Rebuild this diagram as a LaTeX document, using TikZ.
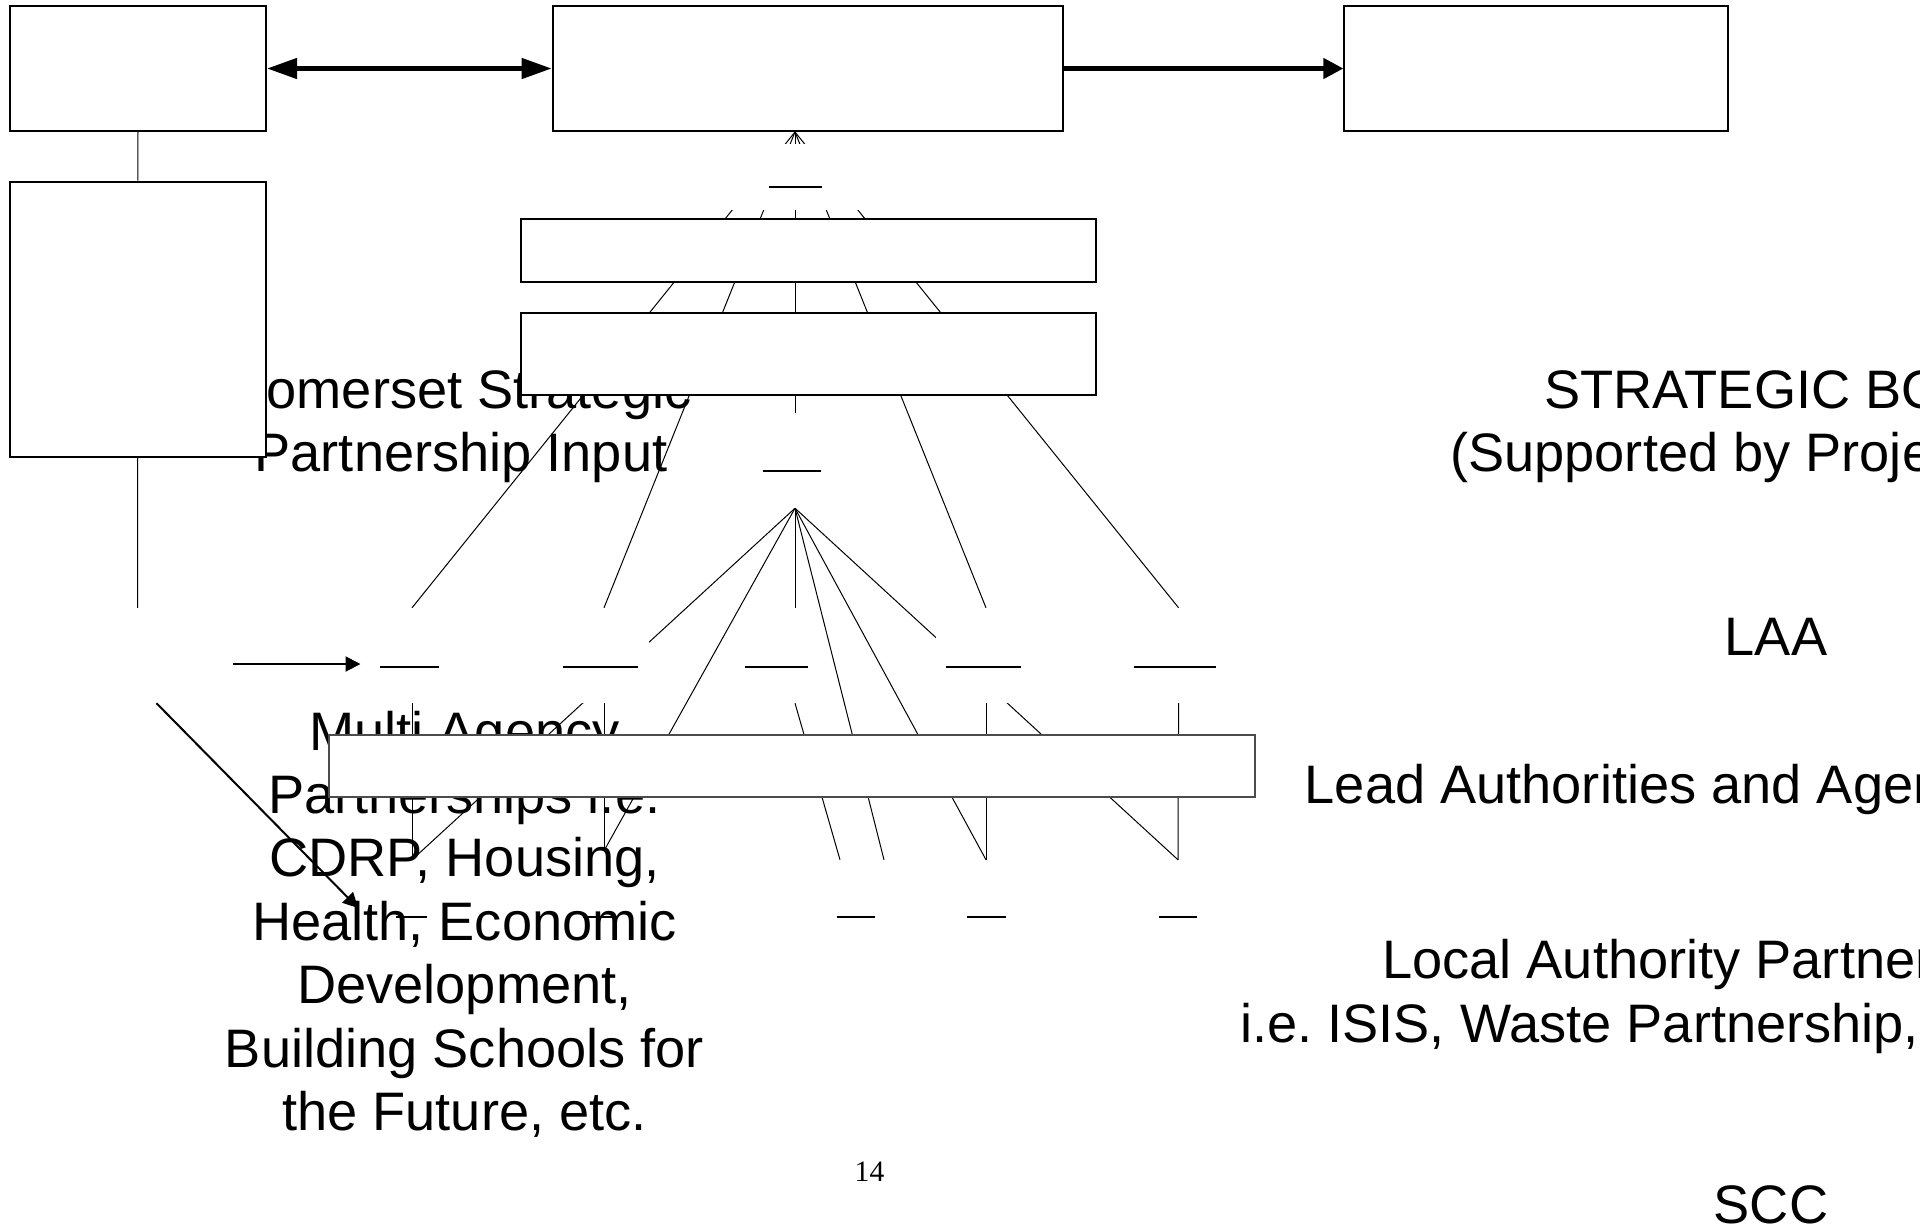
\documentclass[tikz,border=0pt]{standalone}
\usepackage{fontspec}
\setmainfont{Liberation Sans}
\newfontfamily\pagefont{Liberation Serif}
\usetikzlibrary{arrows.meta}
\pgfdeclarelayer{background}
\pgfsetlayers{background,main}

\newcommand{\stacklines}[1]{\begin{tabular}[t]{@{}c@{}}#1\end{tabular}}

\tikzset{
  box/.style={draw, line width=2pt, fill=white, inner sep=0pt},
  blank/.style={fill=white, inner sep=0pt},
  ghost/.style={inner sep=0pt},
  link/.style={line width=1pt},
  bigtext/.style={font=\fontsize{54.2}{63.4}\selectfont, inner sep=0pt},
  dashmark/.style={line width=2pt},
  bigarrow/.style={line width=4.5pt, line cap=round},
  smallarrow/.style={line width=2pt, -{Triangle[length=15pt,width=15pt]}}
}

\begin{document}
\begin{tikzpicture}[x=1pt,y=-1pt]
  \useasboundingbox (0,0) rectangle (1920,1227);

  % Top row
  \node[box, minimum width=256pt, minimum height=125pt] (A) at (138,68.5) {};
  \node[box, minimum width=510.5pt, minimum height=125pt] (B) at (807.9,68.5) {};
  \node[box, minimum width=384pt, minimum height=125pt] (C) at (1536.4,68.5) {};

  % Left column
  \node[box, minimum width=255.5pt, minimum height=275pt] (D) at (137.75,319.2) {};

  % Middle bars
  \node[box, minimum width=574.5pt, minimum height=63pt] (F) at (808.25,250.5) {};
  \node[box, minimum width=574.5pt, minimum height=82pt] (G) at (808.25,353.7) {};
  \node[box, draw=black!70, line width=1.5pt, minimum width=926pt, minimum height=62pt] (E) at (792,766) {};

  % Empty text boxes
  \node[blank, minimum width=150pt, minimum height=66pt] (N0) at (795,177) {};
  \node[blank, minimum width=120pt, minimum height=95pt] (M) at (795,460.5) {};
  \node[blank, minimum width=191pt, minimum height=95pt] (L0) at (137.5,655.5) {};
  \node[blank, minimum width=102.6pt, minimum height=95pt] (L1) at (412,655.5) {};
  \node[blank, minimum width=90pt, minimum height=95pt] (L2) at (604,655.5) {};
  \node[blank, minimum width=75pt, minimum height=95pt] (L3) at (777.5,655.5) {};
  \node[blank, minimum width=100pt, minimum height=95pt] (L4) at (986,655.5) {};
  \node[blank, minimum width=101pt, minimum height=95pt] (L5) at (1178.6,655.5) {};
  \node[ghost, minimum width=107.4pt, minimum height=96pt] (T1) at (412,908) {};
  \node[ghost, minimum width=60pt, minimum height=96pt] (T2) at (604,899) {};
  \node[ghost, minimum width=80pt, minimum height=96pt] (T3) at (862,908) {};
  \node[ghost, minimum width=60pt, minimum height=96pt] (T4) at (986,908) {};
  \node[ghost, minimum width=60pt, minimum height=96pt] (T5) at (1178,908) {};

  % Dashes left in the empty boxes
  \foreach \a/\b/\y in {769/822/187.3, 763/820.5/470.7,
      380/438.5/666.5, 563/638/666.5, 745/808/666.5, 946/1021/666.5, 1133.5/1216/666.5,
      396/427/917, 583/613/917, 837/875/917, 967/1006/917, 1159/1197/917}
    \draw[dashmark] (\a,\y) -- (\b,\y);

  % Arrows
  \draw[bigarrow, {Triangle[length=30pt,width=20pt]}-{Triangle[length=30pt,width=20pt]}] (A.east) -- (B.west);
  \draw[bigarrow, -{Triangle[length=20pt,width=20pt]}] (B.east) -- (C.west);
  \draw[smallarrow] ([yshift=-8.5pt]L0.east) -- ([yshift=-8.5pt]L1.west);
  \draw[smallarrow] ([xshift=19pt]L0.south) -- (T1.west);

  \begin{pgfonlayer}{background}
    % Texts
    \node[bigtext, anchor=base] (somerset) at (461,408) {\stacklines{Somerset Strategic\\Partnership Input}};
    \node[bigtext, anchor=base] (multi) at (464.5,750) {\stacklines{Multi Agency\\Partnerships i.e.\\CDRP, Housing,\\Health, Economic\\Development,\\Building Schools for\\the Future, etc.}};
    \node[bigtext, anchor=base west] (board) at (1544,408) {STRATEGIC BO};
    \node[bigtext, anchor=base west] (support) at (1450,471.5) {(Supported by Proje};
    \node[bigtext, anchor=base] (laa) at (1776,655) {LAA};
    \node[bigtext, anchor=base west] (lead) at (1304.6,803) {Lead Authorities and Agen};
    \node[bigtext, anchor=base west] (local) at (1382,978) {Local Authority Partner};
    \node[bigtext, anchor=base west] (isis) at (1240,1042) {i.e.\ ISIS, Waste Partnership,};
    \node[bigtext, anchor=base] (scc) at (1771,1223) {SCC};
    \node[inner sep=0pt, anchor=base, font=\pagefont\fontsize{29.6}{32}\selectfont] (page) at (869.5,1181) {14};

    % Connectors
    \draw[link] (A.south) -- (D.north);
    \draw[link] (D.south) -- (L0.north);
    \draw[link] (M.north |- B.south) -- (M.north);
    \foreach \n in {L1,L2,L4,L5}
      \draw[link] (M.north |- B.south) -- (\n.north);
    \foreach \n in {T1,T2,T4,T5}
      \draw[link] (M.south) -- (\n.north);
    \draw[link] (M.south) -- (M.south |- L3.north);
    \draw[link] (M.south) -- ([xshift=22pt]T3.north);
    \foreach \u/\v in {L1/T1,L2/T2,L4/T4,L5/T5}
      \draw[link] (\u.south) -- (\v.north);
    \draw[link] (M.south |- L3.south) -- ([xshift=-22pt]T3.north);
  \end{pgfonlayer}
\end{tikzpicture}
\end{document}
